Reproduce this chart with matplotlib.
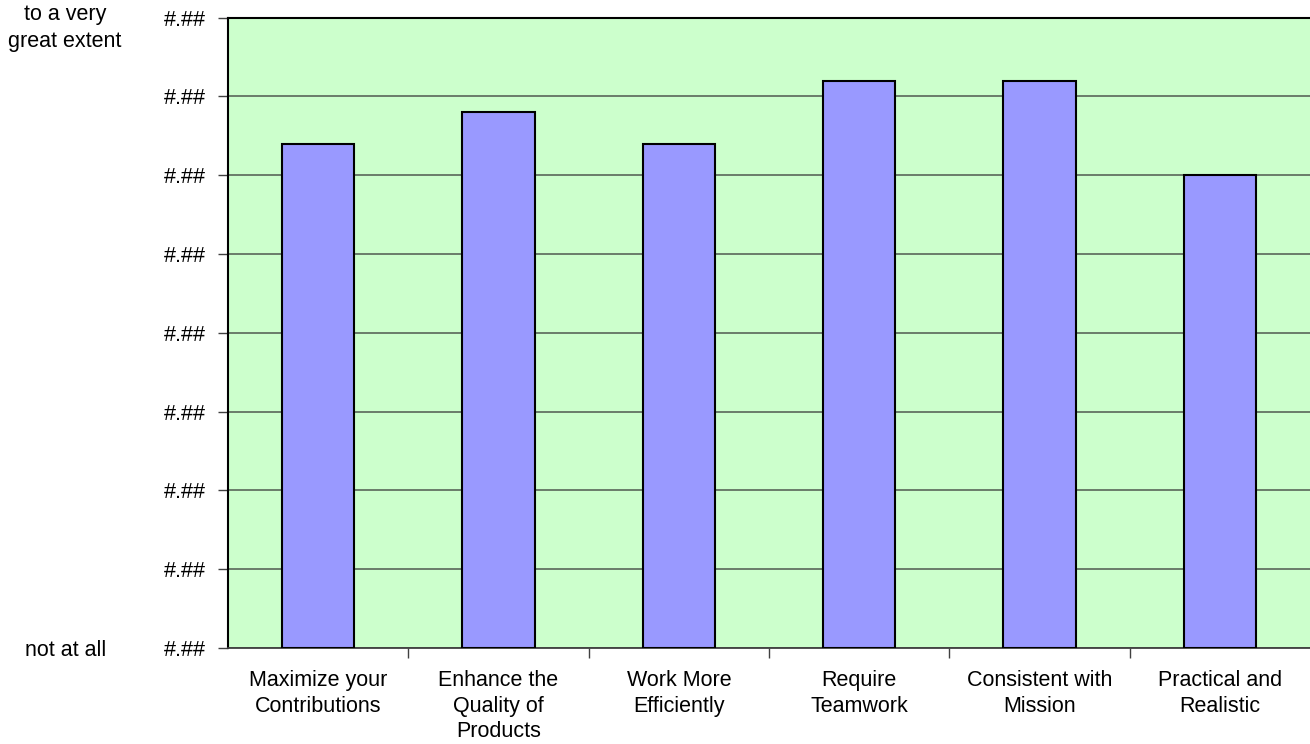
import matplotlib
matplotlib.use("Agg")
import matplotlib.pyplot as plt
from matplotlib.ticker import FixedLocator, FuncFormatter

plt.rcParams['font.family'] = ['Liberation Sans', 'DejaVu Sans']

categories = [
    "Maximize your\nContributions",
    "Enhance the\nQuality of\nProducts",
    "Work More\nEfficiently",
    "Require\nTeamwork",
    "Consistent with\nMission",
    "Practical and\nRealistic",
]
scores = [4.20, 4.40, 4.20, 4.60, 4.60, 4.00]
y_ticks = [1.0, 1.5, 2.0, 2.5, 3.0, 3.5, 4.0, 4.5, 5.0]

FS = 15.5

fig = plt.figure(figsize=(13.1, 7.44), dpi=100)
ax = fig.add_axes([228 / 1310, 1 - 648 / 744, 1 - 228 / 1310, (648 - 17.5) / 744])
ax.set_facecolor('#CCFFCC')

x = list(range(len(categories)))
ax.bar(x, [s - y_ticks[0] for s in scores], bottom=y_ticks[0], width=0.4,
       color='#9999FF', edgecolor='black', linewidth=1.5, zorder=3)

ax.set_xlim(-0.5, len(categories) - 0.5)
ax.set_ylim(y_ticks[0], y_ticks[-1])

ax.yaxis.set_major_locator(FixedLocator(y_ticks))
ax.yaxis.set_major_formatter(FuncFormatter(lambda v, p: '#.##'))
ax.grid(axis='y', color='#627262', linewidth=1.3, zorder=1)

ax.set_xticks(x)
ax.set_xticklabels(categories, fontsize=FS, linespacing=1.28, va='top')
ax.set_xticks([i + 0.5 for i in x[:-1]], minor=True)
ax.tick_params(axis='x', which='major', length=0, pad=16)
ax.tick_params(axis='x', which='minor', length=7, width=1, color='#404040')
ax.tick_params(axis='y', length=7, width=1, color='#404040', pad=9,
               labelsize=FS)

for side in ['top', 'left']:
    ax.spines[side].set_color('black')
    ax.spines[side].set_linewidth(1.5)
ax.spines['bottom'].set_color('#404040')
ax.spines['bottom'].set_linewidth(1.3)
ax.spines['right'].set_visible(False)

fig.text(65 / 1310, 1 - 28 / 744, "to a very\ngreat extent", ha='center',
         va='center', fontsize=FS, linespacing=1.4)
fig.text(66 / 1310, 1 - 650 / 744, "not at all", ha='center', va='center',
         fontsize=FS)

fig.savefig("out.png", dpi=100)
